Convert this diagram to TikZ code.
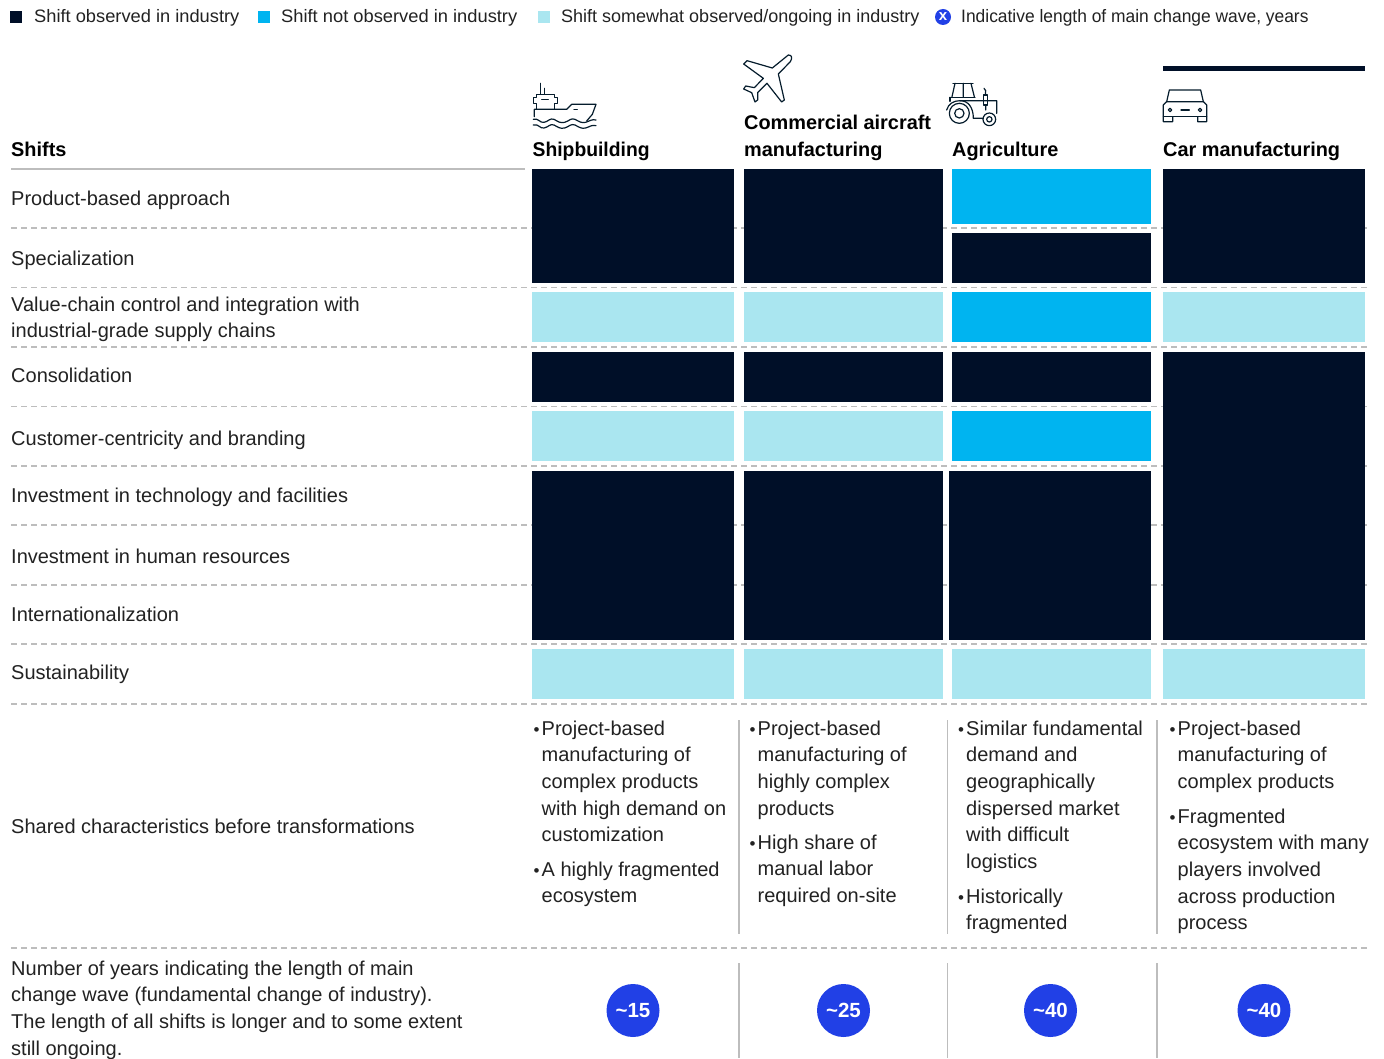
\documentclass[tikz,border=0pt]{standalone}
\usepackage{fontspec}
\setmainfont{Liberation Sans}
\definecolor{cdark}{HTML}{000F28}
\definecolor{cblue}{HTML}{00B4F0}
\definecolor{clight}{HTML}{AAE6F0}
\definecolor{cgray}{HTML}{BDBDBD}
\definecolor{cbadge}{HTML}{2140E6}
\definecolor{cicon}{HTML}{051C2C}
\definecolor{ctext}{HTML}{222222}
\newcommand{\bodyfont}{\fontsize{20}{26.6}\selectfont}
\newcommand{\legfont}{\fontsize{18}{24}\selectfont}
\newcommand{\headfont}{\fontsize{19.9}{27}\selectfont\bfseries}
\newcommand{\para}[4]{\node[para] (#1) at (#2,{#3-18.62}) {\strut #4};}
\newcommand{\bul}[4]{\node[bulletmark] (#1b) at (#2,#3) {•};\node[para] (#1) at ({#2+8},{#3-18.62}) {\strut #4};}
\begin{document}
\begin{tikzpicture}[x=1pt,y=-1pt,
  lab/.style={anchor=base west,inner sep=0pt,font=\bodyfont,text=ctext},
  leg/.style={anchor=base west,inner sep=0pt,font=\legfont,text=ctext},
  head/.style={anchor=base west,inner sep=0pt,font=\headfont,text=black},
  para/.style={anchor=north west,inner sep=0pt,align=left,font=\bodyfont,text=ctext},
  bulletmark/.style={anchor=base west,inner sep=0pt,font=\fontsize{17}{17}\selectfont,text=ctext},
  dashline/.style={draw=cgray,line width=1.1pt,dash pattern=on 6pt off 4pt},
  sepline/.style={draw=cgray,line width=1.3pt},
  badge/.style={circle,fill=cbadge,minimum size=53pt,inner sep=0pt,text=white,font=\fontsize{20.5}{24}\selectfont\bfseries},
  icon/.style={draw=cicon,line width=1.2pt,line join=round,line cap=round},
  dk/.style={fill=cdark},
  bl/.style={fill=cblue},
  lt/.style={fill=clight}]
\useasboundingbox (0,0) rectangle (1384,1059);
\fill[white] (0,0) rectangle (1384,1059);

% legend
\fill[dk] (10,11) rectangle (22,23);
\fill[bl] (258,11) rectangle (270,23);
\fill[lt] (538,11) rectangle (550,23);
\node[circle,fill=cbadge,minimum size=16pt,inner sep=0pt,text=white,font=\fontsize{15}{15}\selectfont\bfseries] (legx) at (943,17) {x};
\node[leg] (l1) at (34,23) {\scalebox{1.015}[1]{Shift observed in industry}};
\node[leg] (l2) at (281,23) {\scalebox{1.017}[1]{Shift not observed in industry}};
\node[leg] (l3) at (561,23) {Shift somewhat observed/ongoing in industry};
\node[leg] (l4) at (961,23) {\scalebox{0.967}[1]{Indicative length of main change wave, years}};

% rules
\draw[draw=cgray,line width=1.5pt] (11,169) -- (525,169);
\foreach \y in {228,287.5,347,406.5,466,525,585,644,704,948}
  \draw[dashline] (11,\y) -- (1367,\y);
\foreach \x in {739,947.5,1157}{
  \draw[sepline] (\x,720) -- (\x,934);
  \draw[sepline] (\x,963) -- (\x,1058);
}

% column 1
\fill[dk] (532,169) rectangle (734,283);
\fill[lt] (532,292) rectangle (734,342);
\fill[dk] (532,352) rectangle (734,402);
\fill[lt] (532,411) rectangle (734,461);
\fill[dk] (532,471) rectangle (734,640);
\fill[lt] (532,649) rectangle (734,699);
% column 2
\fill[dk] (744,169) rectangle (943,283);
\fill[lt] (744,292) rectangle (943,342);
\fill[dk] (744,352) rectangle (943,402);
\fill[lt] (744,411) rectangle (943,461);
\fill[dk] (744,471) rectangle (943,640);
\fill[lt] (744,649) rectangle (943,699);
% column 3
\fill[bl] (952,169) rectangle (1151,224);
\fill[dk] (952,233) rectangle (1151,283);
\fill[bl] (952,292) rectangle (1151,342);
\fill[dk] (952,352) rectangle (1151,402);
\fill[bl] (952,411) rectangle (1151,461);
\fill[dk] (949,471) rectangle (1151,640);
\fill[lt] (952,649) rectangle (1151,699);
% column 4
\fill[dk] (1163,66) rectangle (1365,71);
\fill[dk] (1163,169) rectangle (1365,283);
\fill[lt] (1163,292) rectangle (1365,342);
\fill[dk] (1163,352) rectangle (1365,640);
\fill[lt] (1163,649) rectangle (1365,699);

% headers
\node[head] (hs) at (11,157) {Shifts};
\node[head] (h1) at (532.5,157) {\scalebox{0.97}[1]{Shipbuilding}};
\node[para,font=\headfont,text=black] (h2) at (744,{129.5-18.9}) {\strut Commercial aircraft\\manufacturing};
\node[head] (h3) at (952,157) {Agriculture};
\node[head] (h4) at (1163,157) {Car manufacturing};

% row labels
\node[lab] (r1) at (11,206) {Product-based approach};
\node[lab] (r2) at (11,266) {Specialization};
\para{r3}{11}{311}{Value-chain control and integration with\\industrial-grade supply chains}
\node[lab] (r4) at (11,382) {Consolidation};
\node[lab] (r5) at (11,445) {Customer-centricity and branding};
\node[lab] (r6) at (11,502) {Investment in technology and facilities};
\node[lab] (r7) at (11,563) {Investment in human resources};
\node[lab] (r8) at (11,621) {Internationalization};
\node[lab] (r9) at (11,679) {Sustainability};
\node[lab] (r10) at (11,833) {Shared characteristics before transformations};
\para{r11}{11}{975}{Number of years indicating the length of main\\change wave (fundamental change of industry).\\The length of all shifts is longer and to some extent\\still ongoing.}

% characteristics
\bul{a1}{533.5}{735}{Project-based\\manufacturing of\\complex products\\with high demand on\\customization}
\bul{a2}{533.5}{876}{A highly fragmented\\ecosystem}
\bul{b1}{749.5}{735}{Project-based\\manufacturing of\\highly complex\\products}
\bul{b2}{749.5}{849}{High share of\\manual labor\\required on-site}
\bul{c1}{958}{735}{Similar fundamental\\demand and\\geographically\\dispersed market\\with difficult\\logistics}
\bul{c2}{958}{903}{Historically\\fragmented}
\bul{d1}{1169.5}{735}{Project-based\\manufacturing of\\complex products}
\bul{d2}{1169.5}{823}{Fragmented\\ecosystem with many\\players involved\\across production\\process}

% badges
\node[badge] (w1) at (633,1010.5) {\textasciitilde 15};
\node[badge] (w2) at (843.5,1010.5) {\textasciitilde 25};
\node[badge] (w3) at (1050.5,1010.5) {\textasciitilde 40};
\node[badge] (w4) at (1264,1010.5) {\textasciitilde 40};

% ship icon
\begin{scope}[shift={(520,75)},x=0.3333pt,y=-0.3333pt,icon]
  \draw (62,25) -- (62,58) (73,40) -- (73,58);
  \draw (50,103) -- (50,85) -- (40,85) -- (40,68) -- (50,68) -- (50,58) -- (103,58) -- (103,68) -- (113,68) -- (113,85) -- (103,85) -- (103,103);
  \draw (65,73) -- (85,73);
  \draw (43,125) -- (43,103) -- (140,103) -- (155,88) -- (228,88) -- (217,118) -- (200,138);
  \draw (162,103) -- (172,103);
  \draw (40,133) .. controls (55,128) and (60,145) .. (72,142) .. controls (85,140) and (90,128) .. (102,133) .. controls (115,140) and (120,145) .. (134,142) .. controls (148,138) and (152,128) .. (165,133) .. controls (178,140) and (185,145) .. (197,142) .. controls (210,138) and (215,132) .. (228,135);
  \draw (40,150) .. controls (55,145) and (60,162) .. (72,159) .. controls (85,157) and (90,145) .. (102,150) .. controls (115,157) and (120,162) .. (134,159) .. controls (148,155) and (152,145) .. (165,150) .. controls (178,157) and (185,162) .. (197,159) .. controls (210,155) and (215,149) .. (228,152);
\end{scope}

% plane icon
\begin{scope}[shift={(735,50)},x=0.3333pt,y=-0.3333pt,icon]
  \draw (160,15) -- (112,54) -- (36,32) -- (26,42) -- (85,85) -- (58,113) -- (32,108) -- (26,117) -- (50,128) -- (60,156) -- (68,150) -- (68,128) -- (96,100) -- (140,156) -- (148,150) -- (130,72) -- (166,35) .. controls (172,25) and (172,15) .. (160,15) -- cycle;
\end{scope}

% tractor icon
\begin{scope}[shift={(945,80)},x=0.3333pt,y=-0.3333pt,icon]
  \draw (24,10) -- (84,10);
  \draw (30,10) -- (21,50) (55,10) -- (55,50) (78,10) -- (88,50);
  \draw (15,52) -- (90,52);
  \draw (15,52) -- (15,64);
  \draw (5,90) .. controls (10,72) and (25,62) .. (45,62) -- (155,62) -- (155,100);
  \draw (45,62) .. controls (68,62) and (85,80) .. (85,115) -- (115,115);
  \draw (115,45) rectangle (128,75);
  \draw (117,25) -- (122,32) -- (121,45) (122,75) -- (122,90);
  \draw (43,100) circle (30) (43,100) circle (14);
  \draw (133,118) circle (19) (133,118) circle (8);
\end{scope}

% car icon
\begin{scope}[shift={(1150,60)},x=0.3333pt,y=-0.3333pt,icon]
  \draw (58,90) -- (152,90) -- (160,125) -- (50,125) -- (58,90) -- cycle;
  \draw (50,125) -- (40,135) -- (40,185) -- (68,185) -- (68,170);
  \draw (160,125) -- (170,135) -- (170,185) -- (143,185) -- (143,170);
  \draw (40,170) -- (170,170);
  \draw (60,150) circle (5) (150,150) circle (5);
  \draw (93,150) -- (118,150);
\end{scope}
\end{tikzpicture}
\end{document}
